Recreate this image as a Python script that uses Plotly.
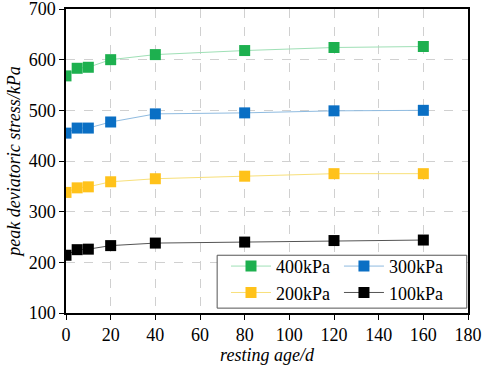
import plotly.graph_objects as go

age = [0, 5, 10, 20, 40, 80, 120, 160]
s400 = [568, 583, 585, 600, 610, 618, 624, 626]
s300 = [455, 465, 465, 477, 493, 495, 499, 500]
s200 = [338, 347, 349, 359, 365, 370, 375, 375]
s100 = [214, 225, 226, 233, 238, 240, 243, 244]
names = ["400kPa", "300kPa", "200kPa", "100kPa"]

series = [s400, s300, s200, s100]
mcolors = ["#1db04f", "#0a6fc4", "#ffc21a", "#000000"]
lcolors = ["#9fe0b6", "#8fbbe0", "#f8e07a", "#555555"]
legends = ["legend", "legend2", "legend", "legend2"]

FONT = "Liberation Serif"

fig = go.Figure()
for n, s, mc, lc, lg in zip(names, series, mcolors, lcolors, legends):
    fig.add_trace(go.Scatter(
        x=age, y=s, name=n, mode="lines+markers", legend=lg,
        line=dict(color=lc, width=1),
        marker=dict(symbol="square", size=11, color=mc, line=dict(width=0)),
    ))

axis_common = dict(
    showline=True, linecolor="black", linewidth=1.5, mirror=True,
    ticks="outside", ticklen=5, tickcolor="black",
    showgrid=True, gridcolor="#d0d0d0", griddash="dash", gridwidth=1,
    zeroline=False, automargin=False, ticklabeloverflow="allow",
    tickfont=dict(family=FONT, size=18, color="black"),
)

leg_common = dict(
    orientation="v", yanchor="bottom", xanchor="left",
    bgcolor="rgba(0,0,0,0)", borderwidth=0,
    font=dict(family=FONT, size=18, color="black"),
    itemwidth=40, tracegroupgap=0,
)

fig.update_layout(
    width=484, height=369,
    margin=dict(l=66, r=16, t=9, b=56),
    paper_bgcolor="white", plot_bgcolor="white",
    font=dict(family=FONT, color="black"),
    xaxis=dict(range=[0, 180], dtick=20,
               title=dict(text="<i>resting age/d</i>", font=dict(family=FONT, size=18), standoff=2),
               **axis_common),
    yaxis=dict(range=[100, 700], dtick=100,
               title=dict(text="<i>peak deviatoric stress/kPa</i>", font=dict(family=FONT, size=18), standoff=3),
               **axis_common),
    legend=dict(x=0.398, y=0.007, **leg_common),
    legend2=dict(x=0.679, y=0.007, **leg_common),
    shapes=[dict(type="rect", xref="paper", yref="paper", x0=0.376, x1=0.997, y0=0.016, y1=0.19,
                 fillcolor="white", line=dict(color="#555555", width=1), layer="above")],
)

fig.write_html("out.html", config={"displayModeBar": False},
               post_script="document.body.style.margin='0px';document.body.style.padding='0px';")
